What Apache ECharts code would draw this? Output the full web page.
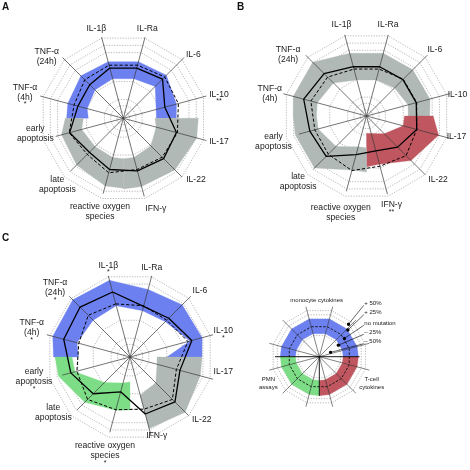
<!DOCTYPE html>
<html><head><meta charset="utf-8">
<script src="https://cdn.jsdelivr.net/npm/echarts@6/dist/echarts.min.js"></script>
<style>html,body{margin:0;padding:0;background:#fff}#main{width:470px;height:470px}</style>
</head><body><div id="main"></div>
<script>
// ---------- axes (clockwise, angle-axis value: 0 = IL-1beta) ----------
const axisNames = ['IL-1β','IL-Ra','IL-6','IL-10','IL-17','IL-22','IFN-γ','reactive oxygen\nspecies','late\napoptosis','early\napoptosis','TNF-α\n(4h)','TNF-α\n(24h)'];
const axisAngles = [0,30,60,90,120,150,180,210,240,270,300,330];
// sector outlines (angle-axis values): boundary, axes..., boundary
const monoAngles  = [285,300,330,0,30,60,90,105];
const tcellAngles = [105,120,150,180,195];
const tcellAnglesToIFN = [105,120,150,180];
const pmnAngles   = [195,210,240,270,285];
const ringLevels = [6.5,13,19.5,38,54,68,75.5,83];

// ---------- panel A ----------
const aStars  = ['','','','**','','','','','','','*',''];
const aSolid  = [52,52,55.5,43,55,57,54.5,53,48,55.5,47,47.5];
const aDashed = [55,55,58.5,57,56,55,53,56.4,51,56,51,54.5];
const aMonoIn  = [35,37.4,40,41,41,45,34,33];
const aMonoOut = [56.7,57.5,60,58.6,58.6,61,55,53];
const aTIn  = [31.7,34,39,40.5,40.5];
const aTOut = [75,76,73,70.7,70.7];
const aPIn  = [40.5,40.5,40,43,40];
const aPOut = [70,70,66,64,58];

// ---------- panel B ----------
const bStars  = ['','','','','','','**','','','','',''];
const bSolid  = [51,51,51.5,51.5,52,44,36,40,57,58.7,65,60];
const bDashed = [48.6,48.6,52,52,52,56,52,56.5,54,53.5,57.6,55];
const bMonoIn  = [50,51,46.7,37.3,37.3,39.6,43,41.7];
const bMonoOut = [73.3,75.8,76,65,65,65.5,65.7,63.3];
const bTIn  = [38,38,25,18,17.3];
const bTOut = [66.7,74.6,63,50,50.7];
const bPIn  = [31.8,31.8,43,50,50];
const bPOut = [56,56,73.6,73.7,73.3];

// ---------- panel C ----------
const cStars  = ['*','','','*','','','','*','','*','*','*'];
const cSolid  = [67.3,52.5,54.8,64,51.7,63.6,59,36,52,61.3,68.6,70.6];
const cDashed = [55,53,52,60,48,60,54,54.6,60,55,53,59];
const cMonoIn  = [51.5,55,52,53,48,50,62,37];
const cMonoOut = [76.5,80,81,79.4,70,73.8,74.7,72];
const cTIn  = [27,28,36.5,39.5];
const cTOut = [72,72.8,78,74];
const cPIn  = [25,27,36,57,58];
const cPOut = [53,55,64,74,75];

// ---------- key ----------
const keyMonoIn  = [41.5,41.5,41.5,41.5,41.5,41.5,41.5,41.5];
const keyMonoOut = [68,68,68,68,68,68,68,68];
const keyTIn  = [41.5,41.5,41.5,41.5,41.5];
const keyTOut = [68,68,68,68,68];
const keyPIn  = [41.5,41.5,41.5,41.5,41.5];
const keyPOut = [68,68,68,68,68];
const keyRings = [38,68,75.5,83];
const keyNoMutation = 54;
const keyLevelNames = ['+ 50%','+ 25%','no mutation','– 25%','– 50%'];
const keyLevelValues = [76,68,54,39,21];
const keyLevelAngles = [57,62,69,74,84];
const keyGroupNames = ['monocyte cytokines','PMN\nassays','T-cell\ncytokines'];

// ---------- colours / layout ----------
const BLUE = '#6c80f0', GRAY = '#b0b9b5', RED = '#c0565f', GREEN = '#7ddc86';
const FONT = '"Liberation Sans", Arial, Helvetica, sans-serif';
const labelMode = ['bottom','bottom','middle','middle','middle','middle','top','top','middle','middle','middle','middle'];
const labelOffA = [[-27,-90],[24,-90],[70,-63.3],[95.7,-20.5],[95.7,23.4],[72.7,61.7],[32.5,90],[-23.3,88.4],[-66,66.7],[-88,15],[-98.3,-22.6],[-76.6,-61.6]];
const labelOffB = [[-25,-91],[21.6,-91],[68.3,-66],[91,-21.7],[90,20.7],[71.6,64],[25,89],[-25.7,91.3],[-68.4,65.2],[-93,25.7],[-96.7,-22.7],[-78.4,-61.8]];
const labelOffC = [[-21.7,-91.7],[21.7,-89],[70,-66.7],[93.3,-23],[93.3,14.3],[71.7,62.7],[26.7,79],[-25,89],[-76.7,56],[-96,23],[-98.3,-25.7],[-75,-65.7]];
const spokeLen = [84,84,86,86,86,83,81,78,75,70,86,86];

const panels = [
  {center:[123.3,118.3], scale:1, solid:aSolid, dashed:aDashed, stars:aStars, off:labelOffA,
   bands:[[aMonoIn,aMonoOut,BLUE,monoAngles],[aTIn,aTOut,GRAY,tcellAngles],[aPIn,aPOut,GRAY,pmnAngles]]},
  {center:[366.5,116], scale:1, solid:bSolid, dashed:bDashed, stars:bStars, off:labelOffB,
   bands:[[bMonoIn,bMonoOut,GRAY,monoAngles],[bTIn,bTOut,RED,tcellAngles],[bPIn,bPOut,GRAY,pmnAngles]]},
  {center:[130,357], scale:1, solid:cSolid, dashed:cDashed, stars:cStars, off:labelOffC,
   bands:[[cMonoIn,cMonoOut,BLUE,monoAngles],[cTIn,cTOut,GRAY,tcellAnglesToIFN],[cPIn,cPOut,GREEN,pmnAngles]]}
];
const keyPanel = {center:[319.3,356.7], scale:0.575,
   bands:[[keyMonoIn,keyMonoOut,BLUE,monoAngles],[keyTIn,keyTOut,RED,tcellAngles],[keyPIn,keyPOut,GREEN,pmnAngles]]};

const polar = [], angleAxis = [], radiusAxis = [], series = [];
function addPolar(p) {
  const k = polar.length;
  polar.push({center:p.center, radius:100*p.scale});
  angleAxis.push({polarIndex:k, type:'value', min:0, max:360, startAngle:105, clockwise:true, show:false});
  radiusAxis.push({polarIndex:k, type:'value', min:0, max:100, show:false});
  return k;
}
function ringSeries(k, levels, style, z) {
  return {type:'custom', coordinateSystem:'polar', polarIndex:k, silent:true, z:z,
    data: levels.map(v => [v, 0]),
    renderItem: (prm, api) => {
      const r = api.value(0);
      return {type:'polygon', shape:{points: axisAngles.map(a => api.coord([r, a]))}, style: Object.assign({fill:null}, style)};
    }};
}
function bandSeries(k, p) {
  return {type:'custom', coordinateSystem:'polar', polarIndex:k, silent:true, z:2,
    data: p.bands.map((b, i) => [i, 0]),
    renderItem: (prm, api) => {
      const b = p.bands[prm.dataIndex], ang = b[3];
      const outer = b[1].map((r, j) => api.coord([r, ang[j]]));
      const inner = b[0].map((r, j) => api.coord([r, ang[j]])).reverse();
      return {type:'polygon', shape:{points: outer.concat(inner)}, style:{fill:b[2], stroke:b[2], lineWidth:0.3}};
    }};
}
function spokeSeries(k, lens, color, width) {
  return {type:'custom', coordinateSystem:'polar', polarIndex:k, silent:true, z:3,
    data: lens.map((L, i) => [L, axisAngles[i]]),
    renderItem: (prm, api) => {
      const a = api.value(1);
      const p0 = api.coord([0, a]), p1 = api.coord([api.value(0), a]);
      return {type:'line', shape:{x1:p0[0], y1:p0[1], x2:p1[0], y2:p1[1]}, style:{stroke:color, lineWidth:width}};
    }};
}
function loop(vals) {
  const d = vals.map((v, i) => [v, axisAngles[i]]);
  d.push([vals[0], axisAngles[0]]);
  return d;
}
function lineSeries(k, vals, dashed) {
  return {type:'line', coordinateSystem:'polar', polarIndex:k, silent:true, z:4, symbol:'none', animation:false,
    data: loop(vals), lineStyle:{color:'#000', width: dashed ? 1.0 : 1.3, type: dashed ? [3.2, 2] : 'solid'}};
}
function labelSeries(k, p) {
  const LH = 10, FS = 8.6, SH = 7;
  return {type:'custom', coordinateSystem:'polar', polarIndex:k, silent:true, z:5,
    data: axisNames.map((n, i) => [0, axisAngles[i]]),
    renderItem: (prm, api) => {
      const i = prm.dataIndex, c = api.coord([0, 0]);
      const lines = axisNames[i].split('\n').length, st = p.stars[i];
      const x = c[0] + p.off[i][0], ay = c[1] + p.off[i][1];
      let firstY = ay;
      if (labelMode[i] === 'middle') {
        const h = lines * LH + (st ? SH : 0);
        firstY = ay - h / 2 + LH / 2;
      }
      const kids = [{type:'text', x:x, y:firstY - LH / 2,
        style:{text:axisNames[i], fontSize:FS, fontFamily:FONT, fill:'#1a1a1a', align:'center', verticalAlign:'top', lineHeight:LH}}];
      if (st) kids.push({type:'text', x:x, y:firstY + (lines - 1) * LH + 7.2,
        style:{text:st, fontSize:7, fontFamily:FONT, fill:'#1a1a1a', align:'center', verticalAlign:'middle'}});
      return {type:'group', children:kids};
    }};
}

panels.forEach(p => {
  const k = addPolar(p);
  series.push(ringSeries(k, ringLevels, {stroke:'#999', lineWidth:0.7, lineDash:[1.2,1.4]}, 1));
  series.push(bandSeries(k, p));
  series.push(spokeSeries(k, spokeLen, '#3a3a3a', 0.7));
  series.push(lineSeries(k, p.dashed, true));
  series.push(lineSeries(k, p.solid, false));
  series.push(labelSeries(k, p));
});

// ---------- key panel ----------
(function () {
  const p = keyPanel, k = addPolar(p);
  series.push(ringSeries(k, keyRings, {stroke:'#999', lineWidth:0.7, lineDash:[1.2,1.4]}, 1));
  series.push(bandSeries(k, p));
  series.push(ringSeries(k, [keyNoMutation], {stroke:'#111', lineWidth:0.9, lineDash:[2.5,1.5]}, 3));
  series.push(spokeSeries(k, axisAngles.map(() => 90), '#333', 0.6));
  series.push({type:'custom', coordinateSystem:'polar', polarIndex:k, silent:true, z:3,
    data: [[70,105],[68,195],[77,285]],
    renderItem: (prm, api) => {
      const p0 = api.coord([0, api.value(1)]), p1 = api.coord([api.value(0), api.value(1)]);
      return {type:'line', shape:{x1:p0[0], y1:p0[1], x2:p1[0], y2:p1[1]}, style:{stroke:'#000', lineWidth:0.9}};
    }});
  const lblX = 45, lblY = [-53.4,-44,-33.4,-24.4,-15];
  series.push({type:'custom', coordinateSystem:'polar', polarIndex:k, silent:true, z:6,
    data: keyLevelValues.map((v, i) => [v, keyLevelAngles[i]]),
    renderItem: (prm, api) => {
      const i = prm.dataIndex, c = api.coord([0, 0]);
      const d = api.coord([api.value(0), api.value(1)]);
      const tx = c[0] + lblX, ty = c[1] + lblY[i];
      return {type:'group', children:[
        {type:'line', shape:{x1:d[0], y1:d[1], x2:tx - 0.5, y2:ty + 2}, style:{stroke:'#000', lineWidth:0.6}},
        {type:'circle', shape:{cx:d[0], cy:d[1], r:1.7}, style:{fill:'#000'}},
        {type:'text', x:tx, y:ty, style:{text:keyLevelNames[i], fontSize:6, fontFamily:FONT, fill:'#1a1a1a', align:'left', verticalAlign:'middle'}}
      ]};
    }});
  const grpOff = [[-2.6,-56],[-51,26.8],[52.4,26.8]];
  series.push({type:'custom', coordinateSystem:'polar', polarIndex:k, silent:true, z:6,
    data: keyGroupNames.map((n, i) => [0, 0]),
    renderItem: (prm, api) => {
      const i = prm.dataIndex, c = api.coord([0, 0]);
      return {type:'text', x:c[0] + grpOff[i][0], y:c[1] + grpOff[i][1],
        style:{text:keyGroupNames[i], fontSize:6, fontFamily:FONT, fill:'#1a1a1a', align:'center', verticalAlign:'middle', lineHeight:7.5}};
    }});
})();

const chart = echarts.init(document.getElementById('main'), null, {renderer:'canvas'});
chart.setOption({
  animation:false,
  backgroundColor:'#fff',
  polar, angleAxis, radiusAxis, series,
  graphic:[
    {type:'text', left:2, top:2, style:{text:'A', fontSize:10, fontWeight:'bold', fontFamily:FONT, fill:'#111'}},
    {type:'text', left:237, top:2, style:{text:'B', fontSize:10, fontWeight:'bold', fontFamily:FONT, fill:'#111'}},
    {type:'text', left:2, top:233, style:{text:'C', fontSize:10, fontWeight:'bold', fontFamily:FONT, fill:'#111'}}
  ]
});
</script></body></html>
